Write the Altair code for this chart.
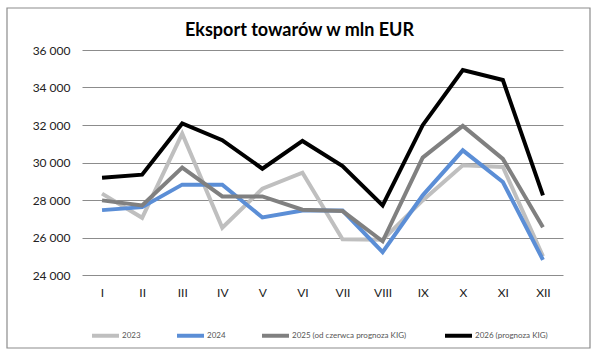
import altair as alt
import pandas as pd

months = ["I", "II", "III", "IV", "V", "VI", "VII", "VIII", "IX", "X", "XI", "XII"]
series_names = ["2023", "2024", "2025 (od  czerwca prognoza KIG)", "2026 (prognoza KIG)"]
v2023 = [28340, 27050, 31540, 26520, 28600, 29460, 25910, 25880, 27980, 29850, 29760, 25000]
v2024 = [27460, 27620, 28820, 28820, 27070, 27440, 27440, 25220, 28250, 30650, 28960, 24810]
v2025 = [27980, 27710, 29730, 28190, 28190, 27480, 27410, 25800, 30260, 31950, 30190, 26550]
v2026 = [29190, 29350, 32080, 31190, 29670, 31150, 29810, 27710, 31990, 34930, 34400, 28250]
y_ticks = [24000, 26000, 28000, 30000, 32000, 34000, 36000]

colors = ["#BFBFBF", "#5B8ED6", "#808080", "#000000"]
widths = [4, 4, 4, 3]

rows = []
for name, vals in zip(series_names, [v2023, v2024, v2025, v2026]):
    for m, v in zip(months, vals):
        rows.append({"month": m, "series": name, "value": v})
df = pd.DataFrame(rows)

FONT = "Lato"

lines = alt.Chart(df).mark_line(strokeJoin="miter", strokeCap="butt").encode(
    x=alt.X("month:N", sort=months,
            scale=alt.Scale(type="point", padding=0.5),
            axis=alt.Axis(title=None, labelAngle=0, domain=False, ticks=False,
                          labelPadding=12, labelFontSize=12, labelColor="#222222",
                          labelFont=FONT, grid=False)),
    y=alt.Y("value:Q",
            scale=alt.Scale(domain=[24000, 36000], nice=False, zero=False),
            axis=alt.Axis(title=None, values=y_ticks, domain=False, ticks=False,
                          labelPadding=12, labelFontSize=12, labelColor="#222222",
                          labelFont=FONT, gridColor="#8C8C8C", gridWidth=1,
                          labelExpr="replace(format(datum.value, ',d'), ',', ' ')")),
    color=alt.Color("series:N", sort=series_names,
                    scale=alt.Scale(domain=series_names, range=colors),
                    legend=alt.Legend(title=None, orient="none", direction="horizontal",
                                      legendX=8, legendY=270,
                                      symbolType="stroke", symbolSize=729,
                                      symbolStrokeWidth=3.5,
                                      labelFontSize=8, labelColor="#555555",
                                      labelFont=FONT, columnPadding=28,
                                      labelOffset=1)),
    strokeWidth=alt.StrokeWidth("series:N", sort=series_names,
                                scale=alt.Scale(domain=series_names, range=widths),
                                legend=None),
    order=alt.Order("series:N"),
)

frame = alt.Chart(pd.DataFrame({"a": [0]})).mark_rect(
    fill=None, stroke="#8C8C8C", strokeWidth=1.2
).encode(
    x=alt.value(-75), x2=alt.value(508), y=alt.value(-42), y2=alt.value(298)
)

chart = alt.layer(frame, lines).properties(
    width=481, height=225,
    title=alt.TitleParams("Eksport towarów w mln EUR", font=FONT, fontSize=18,
                          fontWeight="bold", color="#000000", anchor="middle",
                          baseline="alphabetic", dx=-23, offset=-47),
    padding={"left": 82, "top": 50, "right": 36, "bottom": 80},
    autosize=alt.AutoSizeParams(type="none"),
    background="#FFFFFF",
).configure_view(stroke=None)

chart.save("out.html", embed_options={"renderer": "svg", "actions": False})
